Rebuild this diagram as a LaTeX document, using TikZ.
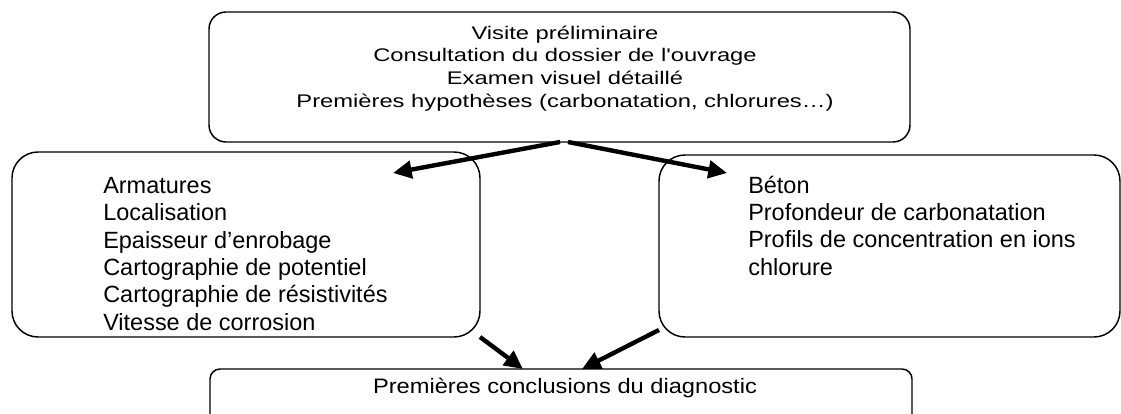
\documentclass[tikz,border=0pt]{standalone}
\usepackage{fontspec}
\setmainfont{Liberation Sans}
\newfontfamily\widetop[FakeStretch=1.3]{Liberation Sans}
\newfontfamily\widebot[FakeStretch=1.13]{Liberation Sans}
\usetikzlibrary{arrows.meta}
\tikzset{
  stage/.style={draw, line width=1.1pt, inner sep=0pt, outer sep=0pt},
  listtxt/.style={inner sep=0pt, align=left, anchor=base west,
    font=\fontsize{17.6pt}{20.5pt}\selectfont},
  link/.style={line width=3.3pt, -{Triangle[length=14pt,width=13pt]}}
}
\begin{document}
\begin{tikzpicture}[x=0.75pt, y=-0.75pt]
  \useasboundingbox (0,0) rectangle (1121,414);
  % boxes
  \node [stage, rounded corners=12.75pt, minimum width=525.75pt, minimum height=97.5pt] (visit) at (559.5,77) {};
  \node [stage, rounded corners=19.5pt, minimum width=351pt, minimum height=138.75pt] (steel) at (246,244.5) {};
  \node [stage, rounded corners=19.5pt, minimum width=345.75pt, minimum height=136.5pt] (concrete) at (889.5,246) {};
  \node [stage, rounded corners=7.5pt, minimum width=526.5pt, minimum height=53.25pt] (concl) at (561,404.5) {};
  % texts (base = last line)
  \node [inner sep=0pt, align=center, anchor=base, font=\widetop\fontsize{13.7pt}{17pt}\selectfont] (visittxt) at (565,107)
    {Visite préliminaire\\Consultation du dossier de l'ouvrage\\Examen visuel détaillé\\Premières hypothèses (carbonatation, chlorures…)};
  \node [listtxt] (steeltxt) at (103,330)
    {Armatures\\Localisation\\Epaisseur d’enrobage\\Cartographie de potentiel\\Cartographie de résistivités\\Vitesse de corrosion};
  \node [listtxt] (concretetxt) at (748,275)
    {Béton\\Profondeur de carbonatation\\Profils de concentration en ions\\chlorure};
  \node [inner sep=0pt, anchor=base, font=\widebot\fontsize{15.7pt}{19pt}\selectfont] (concltxt) at (565,393)
    {Premières conclusions du diagnostic};
  % arrows
  \coordinate (steelin) at (393,173);
  \coordinate (concretein) at (727,173);
  \draw [link] ([xshift=0.4pt]visit.south) -- (steelin);
  \draw [link] ([xshift=6.4pt]visit.south) -- (concretein);
  \draw [link] (steel.south east) -- ([xshift=-28.5pt]concl.north);
  \draw [link] ([yshift=5.25pt]concrete.south west) -- ([xshift=15.75pt]concl.north);
\end{tikzpicture}
\end{document}
